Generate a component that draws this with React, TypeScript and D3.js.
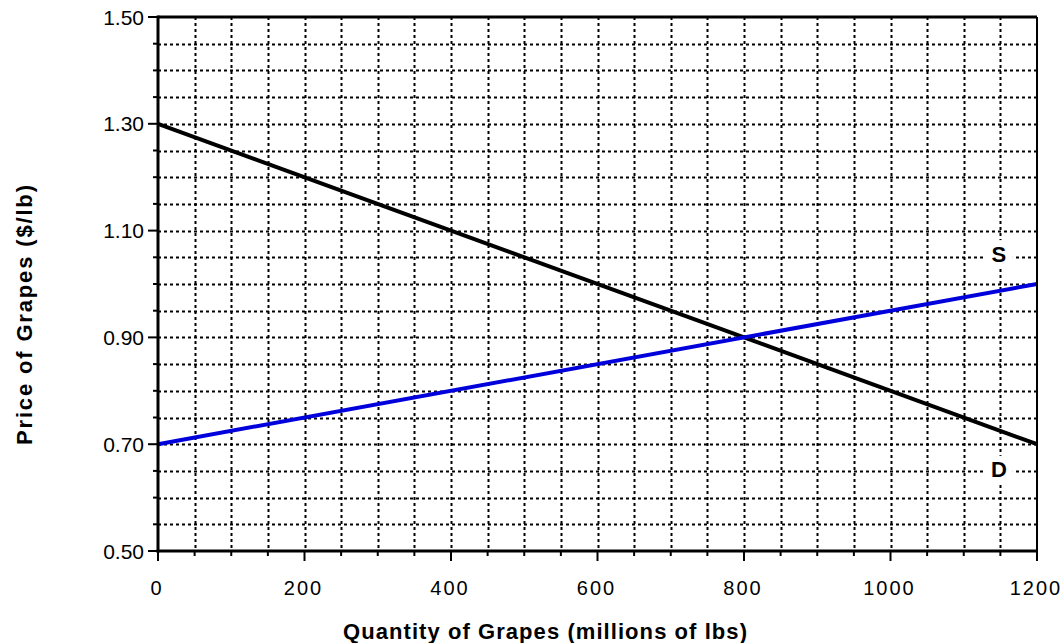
import React from "react";
import * as d3 from "d3";

const quantities = [0, 1200];
const demandPrices = [1.3, 0.7];
const supplyPrices = [0.7, 1.0];
const xTickLabels = [0, 200, 400, 600, 800, 1000, 1200];
const yTickLabels = [0.5, 0.7, 0.9, 1.1, 1.3, 1.5];
const curveLabels = [
  { text: "S", q: 1148, p: 1.056 },
  { text: "D", q: 1148, p: 0.652 },
];

const W = 1063;
const H = 643;
const M = { left: 158, right: 1037, top: 17, bottom: 551 };

export default function App() {
  const x = d3.scaleLinear().domain([0, 1200]).range([M.left, M.right]);
  const y = d3.scaleLinear().domain([0.5, 1.5]).range([M.bottom, M.top]);
  const xGrid = d3.range(50, 1200, 50);
  const yGrid = d3.range(0.55, 1.5, 0.05).map((v) => +v.toFixed(2));
  const xMinor = d3.range(0, 1201, 50);
  const yMinor = d3.range(0.5, 1.501, 0.05).map((v) => +v.toFixed(2));
  const line = d3
    .line<[number, number]>()
    .x((d) => x(d[0]))
    .y((d) => y(d[1]));
  const demand = quantities.map((q, i) => [q, demandPrices[i]] as [number, number]);
  const supply = quantities.map((q, i) => [q, supplyPrices[i]] as [number, number]);
  const font = "'Liberation Sans', Arial, sans-serif";

  return (
    <svg
      width={W}
      height={H}
      style={{ position: "absolute", left: 0, top: 0, background: "#fff" }}
      fontFamily={font}
    >
      <rect x={0} y={0} width={W} height={H} fill="#fff" />
      {/* grid */}
      {xGrid.map((v) => (
        <line
          key={"gx" + v}
          x1={Math.round(x(v)) + 0.5}
          x2={Math.round(x(v)) + 0.5}
          y1={M.top}
          y2={M.bottom}
          stroke="#000"
          strokeWidth={2}
          strokeDasharray="3,3"
        />
      ))}
      {yGrid.map((v) => (
        <line
          key={"gy" + v}
          x1={M.left}
          x2={M.right}
          y1={Math.round(y(v)) + 0.5}
          y2={Math.round(y(v)) + 0.5}
          stroke="#000"
          strokeWidth={2}
          strokeDasharray="3,3"
        />
      ))}
      {/* label boxes */}
      {curveLabels.map((l) => (
        <rect
          key={"bg" + l.text}
          x={x(l.q) - 14}
          y={y(l.p) - 14}
          width={28}
          height={28}
          fill="#fff"
        />
      ))}
      {/* curves */}
      <path d={line(demand) || ""} fill="none" stroke="#000" strokeWidth={4} />
      <path d={line(supply) || ""} fill="none" stroke="#0000dd" strokeWidth={4} />
      {curveLabels.map((l) => (
        <text
          key={"t" + l.text}
          x={x(l.q)}
          y={y(l.p)}
          textAnchor="middle"
          dominantBaseline="central"
          fontSize={22}
          fontWeight="bold"
        >
          {l.text}
        </text>
      ))}
      {/* frame */}
      <line x1={M.left} x2={M.right} y1={M.top} y2={M.top} stroke="#000" strokeWidth={3} />
      <line x1={M.right} x2={M.right} y1={M.top} y2={M.bottom} stroke="#000" strokeWidth={2} />
      <line x1={M.left} x2={M.left} y1={M.top - 1.5} y2={M.bottom + 1.5} stroke="#000" strokeWidth={3} />
      <line x1={M.left - 1.5} x2={M.right + 1} y1={M.bottom} y2={M.bottom} stroke="#000" strokeWidth={3} />
      {/* ticks */}
      {yMinor.map((v) => (
        <line
          key={"ty" + v}
          x1={M.left - (yTickLabels.some((t) => Math.abs(t - v) < 1e-6) ? 10 : 5)}
          x2={M.left}
          y1={y(v)}
          y2={y(v)}
          stroke="#000"
          strokeWidth={2}
        />
      ))}
      {xMinor.map((v) => (
        <line
          key={"tx" + v}
          x1={x(v)}
          x2={x(v)}
          y1={M.bottom}
          y2={M.bottom + (xTickLabels.includes(v) ? 10 : 5)}
          stroke="#000"
          strokeWidth={2}
        />
      ))}
      {yTickLabels.map((v) => (
        <text
          key={"ly" + v}
          x={144}
          y={y(v)}
          textAnchor="end"
          dominantBaseline="central"
          fontSize={21}
        >
          {v.toFixed(2)}
        </text>
      ))}
      {xTickLabels.map((v) => (
        <text
          key={"lx" + v}
          x={x(v) - 1}
          y={595}
          textAnchor="middle"
          fontSize={20}
          letterSpacing={2}
        >
          {v}
        </text>
      ))}
      <text
        x={343}
        y={639}
        fontSize={22}
        fontWeight="bold"
        textLength={404}
        lengthAdjust="spacing"
      >
        Quantity of Grapes (millions of lbs)
      </text>
      <text
        transform={`translate(32,445) rotate(-90)`}
        fontSize={22}
        fontWeight="bold"
        textLength={260}
        lengthAdjust="spacing"
      >
        Price of Grapes ($/lb)
      </text>
    </svg>
  );
}
